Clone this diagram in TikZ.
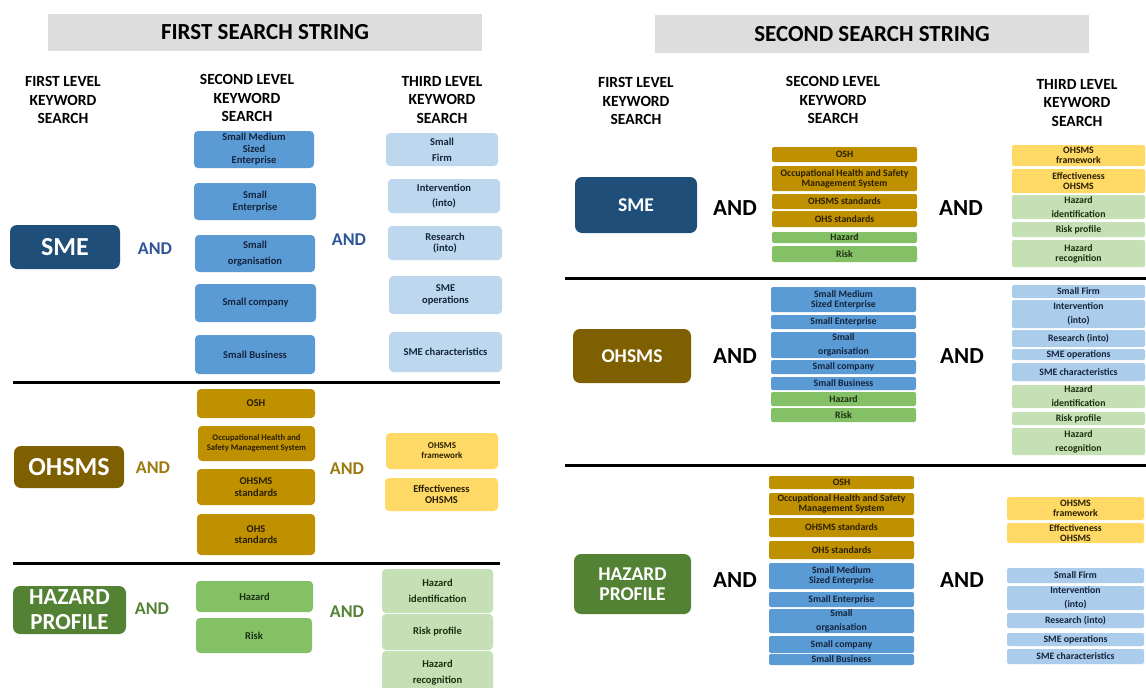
\documentclass[tikz,border=0pt]{standalone}
\usepackage{fontspec}
\setmainfont{Carlito}
\definecolor{smeblue}{HTML}{1F4E79}
\definecolor{midblue}{HTML}{5B9BD5}
\definecolor{paleblue}{HTML}{BDD7EE}
\definecolor{paleblueR}{HTML}{ABCCEA}
\definecolor{ohsbrown}{HTML}{7F6000}
\definecolor{gold}{HTML}{BF9000}
\definecolor{sun}{HTML}{FFD966}
\definecolor{hazgreen}{HTML}{548235}
\definecolor{leaf}{HTML}{84C065}
\definecolor{mint}{HTML}{C5E0B4}
\definecolor{bargray}{HTML}{DDDDDD}
\definecolor{andblue}{HTML}{2F5597}
\definecolor{andolive}{HTML}{9C7A0E}
\definecolor{andgreen}{HTML}{548235}
\definecolor{inkblue}{HTML}{14243D}
\definecolor{inkbrown}{HTML}{2A1F00}
\definecolor{inkgreen}{HTML}{1B2E10}
% box from corner (x1,y1) to corner (x2,y2): name, x1, y1, x2, y2, style, text
\newcommand{\kbox}[7]{%
  \pgfmathsetmacro{\kbxw}{#4-#2}%
  \pgfmathsetmacro{\kbxh}{#5-#3}%
  \node[#6, minimum width=\kbxw pt, minimum height=\kbxh pt] (#1) at ({(#2+#4)/2},{(#3+#5)/2}) {#7};%
}
\begin{document}
\begin{tikzpicture}[x=1pt,y=-1pt,
  bar/.style={fill=bargray, inner sep=0pt, font=\bfseries\fontsize{23}{27}\selectfont},
  head/.style={align=center, inner sep=0pt, font=\bfseries\fontsize{15.5}{18.5}\selectfont},
  topL/.style={inner sep=0pt, align=center, text=white, rounded corners=7pt, font=\bfseries\fontsize{26}{25}\selectfont},
  topR/.style={inner sep=0pt, align=center, text=white, rounded corners=7pt, font=\bfseries\fontsize{19.5}{20}\selectfont},
  andL/.style={inner sep=0pt, font=\bfseries\fontsize{18}{20}\selectfont},
  andR/.style={inner sep=0pt, text=black, font=\bfseries\fontsize{23}{25}\selectfont},
  lb/.style={inner sep=0pt, align=center, rounded corners=4pt, font=\bfseries\fontsize{10.5}{11.5}\selectfont},
  rb/.style={inner sep=0pt, align=center, rounded corners=2pt, font=\bfseries\fontsize{9.8}{10}\selectfont},
  blueL/.style={lb, fill=midblue, text=inkblue},
  paleL/.style={lb, fill=paleblue, text=inkblue},
  goldL/.style={lb, fill=gold, text=inkbrown},
  sunL/.style={lb, fill=sun, text=inkbrown},
  leafL/.style={lb, fill=leaf, text=inkgreen},
  mintL/.style={lb, fill=mint, text=inkgreen},
  blueR/.style={rb, fill=midblue, text=inkblue},
  paleR/.style={rb, fill=paleblueR, text=inkblue},
  goldR/.style={rb, fill=gold, text=inkbrown},
  sunR/.style={rb, fill=sun, text=inkbrown},
  leafR/.style={rb, fill=leaf, text=inkgreen},
  mintR/.style={rb, fill=mint, text=inkgreen},
  rule/.style={line width=3pt, black}]
\useasboundingbox (0,0) rectangle (1146,688);
\fill[white] (0,0) rectangle (1146,688);

% ================= first search string =================
\kbox{barA}{48}{14}{482}{51}{bar}{FIRST SEARCH STRING}
\node[head] (hA1) at (63,100) {FIRST LEVEL\\KEYWORD\\SEARCH};
\node[head] (hA2) at (247,98) {SECOND LEVEL\\KEYWORD\\SEARCH};
\node[head] (hA3) at (442,100) {THIRD LEVEL\\KEYWORD\\SEARCH};

% SME row
\kbox{smeA}{10}{225}{120}{269}{topL, fill=smeblue}{SME}
\node[andL, text=andblue] (andA1) at (155,249) {AND};
\kbox{a21}{194}{131}{314}{168}{blueL}{Small Medium\\Sized\\Enterprise}
\kbox{a22}{194}{183}{316}{220}{blueL}{Small\\Enterprise}
\kbox{a23}{195}{235}{315}{272}{blueL}{Small\\[4.5pt]organisation}
\kbox{a24}{195}{284}{316}{322}{blueL}{Small company}
\kbox{a25}{195}{335}{315}{374}{blueL}{Small Business}
\node[andL, text=andblue] (andA2) at (349,240) {AND};
\kbox{a31}{386}{133}{498}{166}{paleL}{Small\\[4.5pt]Firm}
\kbox{a32}{388}{179}{500}{213}{paleL}{Intervention\\[3.5pt](into)}
\kbox{a33}{388}{226}{502}{260}{paleL}{Research\\(into)}
\kbox{a34}{389}{276}{502}{314}{paleL}{SME\\operations}
\kbox{a35}{389}{332}{502}{372}{paleL}{SME characteristics}
\draw[rule] (13,382) -- (500,382);

% OHSMS row
\kbox{ohsA}{14}{446}{124}{488}{topL, fill=ohsbrown}{OHSMS}
\node[andL, text=andolive] (andA3) at (153,468) {AND};
\kbox{b21}{197}{389}{315}{418}{goldL}{OSH}
\kbox{b22}{198}{426}{315}{461}{goldL, font=\bfseries\fontsize{8.6}{10}\selectfont}{Occupational Health and\\Safety Management System}
\kbox{b23}{197}{469}{315}{505}{goldL}{OHSMS\\standards}
\kbox{b24}{197}{514}{315}{555}{goldL}{OHS\\standards}
\node[andL, text=andolive] (andA4) at (347,469) {AND};
\kbox{b31}{386}{433}{498}{469}{sunL, font=\bfseries\fontsize{9}{10}\selectfont}{OHSMS\\framework}
\kbox{b32}{385}{478}{498}{511}{sunL}{Effectiveness\\OHSMS}
\draw[rule] (13,563) -- (500,563);

% HAZARD PROFILE row
\kbox{hazA}{13}{586}{126}{634}{topL, font=\bfseries\fontsize{23}{25}\selectfont, fill=hazgreen}{HAZARD\\PROFILE}
\node[andL, text=andgreen] (andA5) at (152,609) {AND};
\kbox{c21}{196}{581}{313}{612}{leafL}{Hazard}
\kbox{c22}{196}{618}{312}{653}{leafL}{Risk}
\node[andL, text=andgreen] (andA6) at (347,612) {AND};
\kbox{c31}{382}{569}{493}{613}{mintL}{Hazard\\[4.5pt]identification}
\kbox{c32}{382}{614}{493}{650}{mintL}{Risk profile}
\kbox{c33}{382}{651}{493}{694}{mintL}{Hazard\\[4.5pt]recognition}

% ================= second search string =================
\kbox{barB}{655}{15}{1089}{53}{bar}{SECOND SEARCH STRING}
\node[head] (hB1) at (636,101) {FIRST LEVEL\\KEYWORD\\SEARCH};
\node[head] (hB2) at (833,100) {SECOND LEVEL\\KEYWORD\\SEARCH};
\node[head] (hB3) at (1077,103) {THIRD LEVEL\\KEYWORD\\SEARCH};

% SME row
\kbox{smeB}{575}{177}{697}{233}{topR, fill=smeblue}{SME}
\node[andR] (andB1) at (735,208) {AND};
\kbox{d21}{772}{147}{917}{162}{goldR}{OSH}
\kbox{d22}{772}{166}{917}{191}{goldR}{Occupational Health and Safety\\Management System}
\kbox{d23}{772}{194}{917}{209}{goldR}{OHSMS standards}
\kbox{d24}{772}{211}{917}{227}{goldR}{OHS standards}
\kbox{d25}{772}{232}{917}{243}{leafR}{Hazard}
\kbox{d26}{772}{246}{917}{262}{leafR}{Risk}
\node[andR] (andB2) at (961,208) {AND};
\kbox{d31}{1012}{145}{1145}{166}{sunR}{OHSMS\\framework}
\kbox{d32}{1012}{169}{1145}{193}{sunR}{Effectiveness\\OHSMS}
\kbox{d33}{1012}{195}{1145}{219}{mintR}{Hazard\\[4pt]identification}
\kbox{d34}{1012}{222}{1145}{237}{mintR}{Risk profile}
\kbox{d35}{1012}{240}{1145}{267}{mintR}{Hazard\\recognition}
\draw[rule] (565,278) -- (1146,278);

% OHSMS row
\kbox{ohsB}{573}{329}{691}{383}{topR, fill=ohsbrown}{OHSMS}
\node[andR] (andB3) at (735,356) {AND};
\kbox{e21}{771}{287}{916}{312}{blueR}{Small Medium\\Sized Enterprise}
\kbox{e22}{771}{315}{916}{329}{blueR}{Small Enterprise}
\kbox{e23}{771}{332}{916}{358}{blueR}{Small\\[4pt]organisation}
\kbox{e24}{771}{360}{916}{374}{blueR}{Small company}
\kbox{e25}{771}{377}{916}{390}{blueR}{Small Business}
\kbox{e26}{771}{392}{916}{406}{leafR}{Hazard}
\kbox{e27}{771}{408}{916}{422}{leafR}{Risk}
\node[andR] (andB4) at (962,356) {AND};
\kbox{e31}{1012}{285}{1145}{298}{paleR}{Small Firm}
\kbox{e32}{1012}{300}{1145}{328}{paleR}{Intervention\\[4pt](into)}
\kbox{e33}{1012}{330}{1145}{347}{paleR}{Research (into)}
\kbox{e34}{1012}{349}{1145}{360}{paleR}{SME operations}
\kbox{e35}{1012}{363}{1145}{381}{paleR}{SME characteristics}
\kbox{e36}{1012}{385}{1145}{408}{mintR}{Hazard\\[4pt]identification}
\kbox{e37}{1012}{412}{1145}{425}{mintR}{Risk profile}
\kbox{e38}{1012}{428}{1145}{455}{mintR}{Hazard\\[4pt]recognition}
\draw[rule] (565,465) -- (1146,465);

% HAZARD PROFILE row
\kbox{hazB}{574}{554}{691}{614}{topR, fill=hazgreen}{HAZARD\\PROFILE}
\node[andR] (andB5) at (735,580) {AND};
\kbox{f21}{769}{476}{914}{489}{goldR}{OSH}
\kbox{f22}{769}{493}{914}{515}{goldR}{Occupational Health and Safety\\Management System}
\kbox{f23}{769}{518}{914}{537}{goldR}{OHSMS standards}
\kbox{f24}{769}{541}{914}{559}{goldR}{OHS standards}
\kbox{f25}{769}{563}{914}{589}{blueR}{Small Medium\\Sized Enterprise}
\kbox{f26}{769}{592}{914}{607}{blueR}{Small Enterprise}
\kbox{f27}{769}{609}{914}{633}{blueR}{Small\\[4pt]organisation}
\kbox{f28}{769}{636}{914}{653}{blueR}{Small company}
\kbox{f29}{769}{654}{914}{665}{blueR}{Small Business}
\node[andR] (andB6) at (962,580) {AND};
\kbox{f31}{1007}{497}{1144}{520}{sunR}{OHSMS\\framework}
\kbox{f32}{1007}{523}{1144}{543}{sunR}{Effectiveness\\OHSMS}
\kbox{f33}{1007}{568}{1144}{583}{paleR}{Small Firm}
\kbox{f34}{1007}{586}{1144}{610}{paleR}{Intervention\\[4pt](into)}
\kbox{f35}{1007}{613}{1144}{628}{paleR}{Research (into)}
\kbox{f36}{1007}{633}{1144}{646}{paleR}{SME operations}
\kbox{f37}{1007}{649}{1144}{664}{paleR}{SME characteristics}
\end{tikzpicture}
\end{document}
